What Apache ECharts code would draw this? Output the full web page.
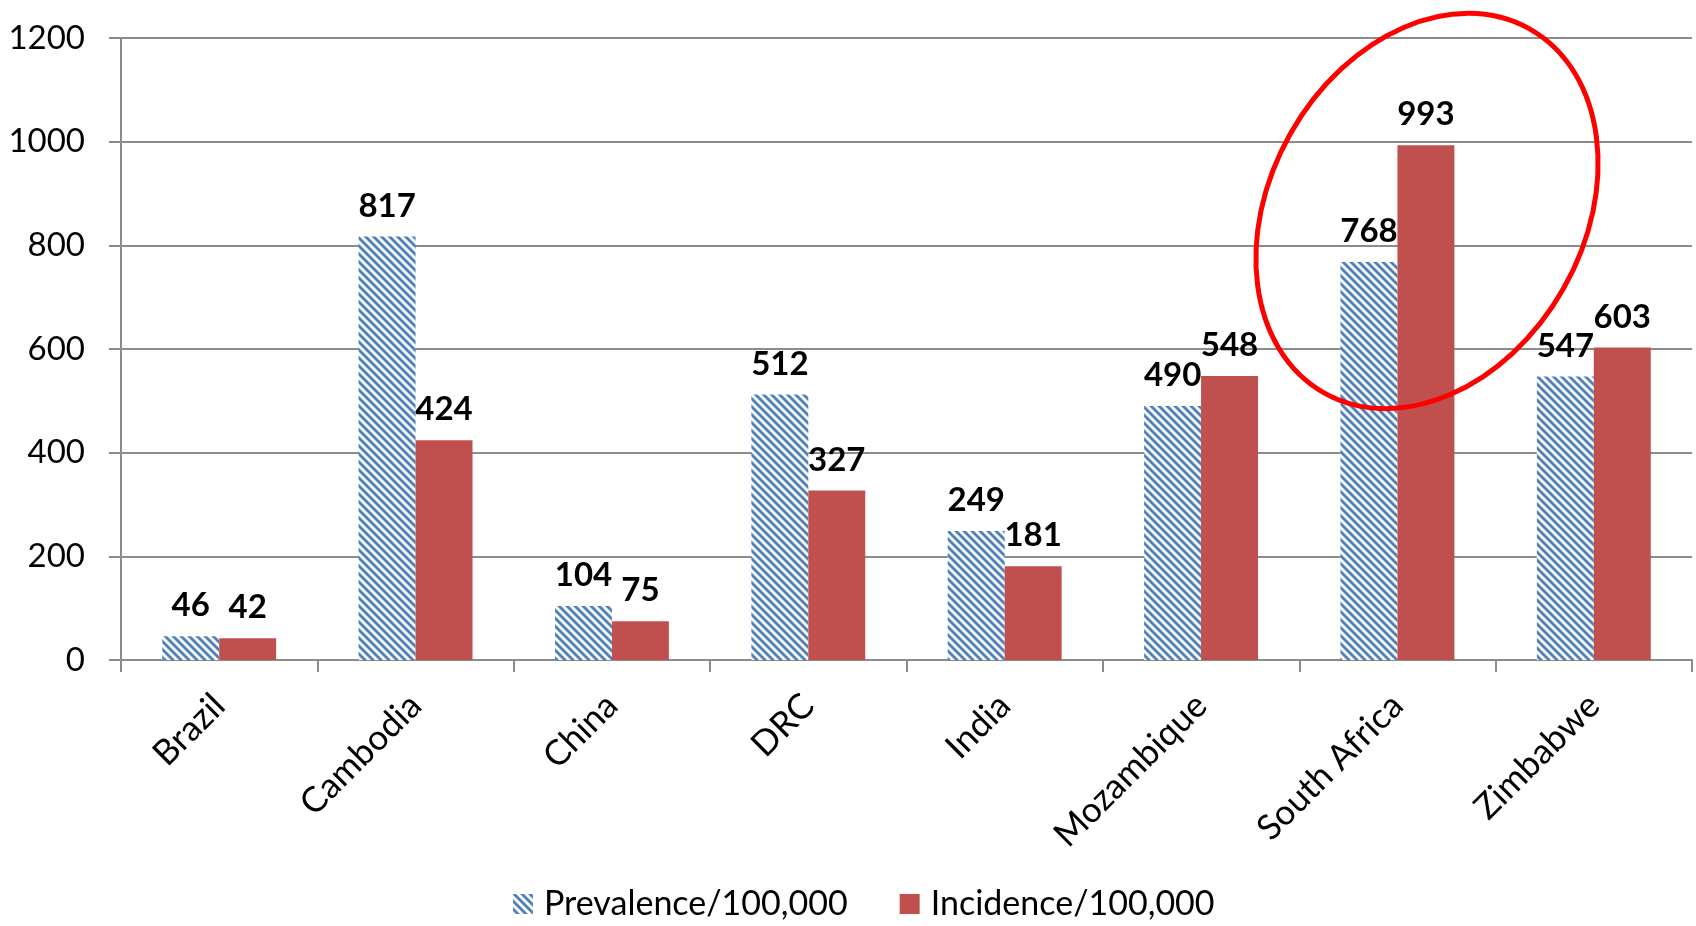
<!DOCTYPE html>
<html>
<head>
<meta charset="utf-8">
<script src="https://cdn.jsdelivr.net/npm/echarts@6/dist/echarts.min.js"></script>
<style>
  html, body { margin: 0; padding: 0; background: #ffffff; }
  #chart { width: 1696px; height: 926px; }
</style>
</head>
<body>
<div id="chart"></div>
<script>
// Country categories and rates per 100,000
const countries = ['Brazil', 'Cambodia', 'China', 'DRC', 'India', 'Mozambique', 'South Africa', 'Zimbabwe'];
const prevalence = [46, 817, 104, 512, 249, 490, 768, 547];
const incidence = [42, 424, 75, 327, 181, 548, 993, 603];
const yTicks = { min: 0, max: 1200, interval: 200 };

const FONT = 'Lato, "Liberation Sans", sans-serif';

// Wide downward-diagonal hatch for the prevalence bars
function makeHatch() {
  const size = 8;
  const c = document.createElement('canvas');
  c.width = size; c.height = size;
  const ctx = c.getContext('2d');
  const img = ctx.createImageData(size, size);
  const blue = [79, 129, 189], soft = [160, 188, 222], white = [255, 255, 255];
  for (let y = 0; y < size; y++) {
    for (let x = 0; x < size; x++) {
      const d = ((x - y) % size + size) % size;
      const col = d <= 2 ? blue : (d === 3 || d === 7) ? soft : white;
      const i = (y * size + x) * 4;
      img.data[i] = col[0];
      img.data[i + 1] = col[1];
      img.data[i + 2] = col[2];
      img.data[i + 3] = 255;
    }
  }
  ctx.putImageData(img, 0, 0);
  return c;
}
const hatch = { image: makeHatch(), repeat: 'repeat' };

const chart = echarts.init(document.getElementById('chart'), null, { renderer: 'canvas' });

const labelStyle = {
  show: true,
  position: 'top',
  distance: 14,
  color: '#000000',
  fontFamily: FONT,
  fontWeight: 'bold',
  fontSize: 33
};

chart.setOption({
  animation: false,
  backgroundColor: '#ffffff',
  grid: { left: 121, right: 4, top: 38, bottom: 266, containLabel: false },
  legend: {
    bottom: 0,
    left: 508,
    itemWidth: 20,
    itemHeight: 20,
    itemGap: 52,
    icon: 'rect',
    textStyle: { fontFamily: FONT, fontSize: 34, color: '#000000', padding: [0, 0, 0, 6] },
    data: ['Prevalence/100,000', 'Incidence/100,000']
  },
  xAxis: {
    type: 'category',
    data: countries,
    axisLine: { lineStyle: { color: '#8c8c8c', width: 2 } },
    axisTick: { show: true, length: 12, lineStyle: { color: '#8c8c8c', width: 2 } },
    axisLabel: {
      rotate: 45,
      margin: 40,
      color: '#000000',
      fontFamily: FONT,
      fontSize: 35
    }
  },
  yAxis: {
    type: 'value',
    min: yTicks.min,
    max: yTicks.max,
    interval: yTicks.interval,
    axisLine: { show: true, lineStyle: { color: '#8c8c8c', width: 2 } },
    axisTick: { show: true, length: 12, lineStyle: { color: '#8c8c8c', width: 2 } },
    splitLine: { show: true, lineStyle: { color: '#8c8c8c', width: 2 } },
    axisLabel: {
      margin: 36,
      color: '#000000',
      fontFamily: FONT,
      fontSize: 33,
      formatter: (v) => String(v)
    }
  },
  series: [
    {
      name: 'Prevalence/100,000',
      type: 'bar',
      data: prevalence,
      barGap: '0%',
      barCategoryGap: '42%',
      itemStyle: { color: hatch },
      label: labelStyle
    },
    {
      name: 'Incidence/100,000',
      type: 'bar',
      data: incidence,
      barGap: '0%',
      barCategoryGap: '42%',
      itemStyle: { color: '#C0504D' },
      label: labelStyle
    }
  ],
  // Red highlight ring around South Africa
  graphic: [
    {
      type: 'ellipse',
      x: 1427,
      y: 211,
      rotation: -0.515,
      shape: { cx: 0, cy: 0, rx: 157, ry: 209 },
      style: { fill: 'none', stroke: '#ff0000', lineWidth: 5 },
      z: 100
    }
  ]
});
</script>
</body>
</html>
